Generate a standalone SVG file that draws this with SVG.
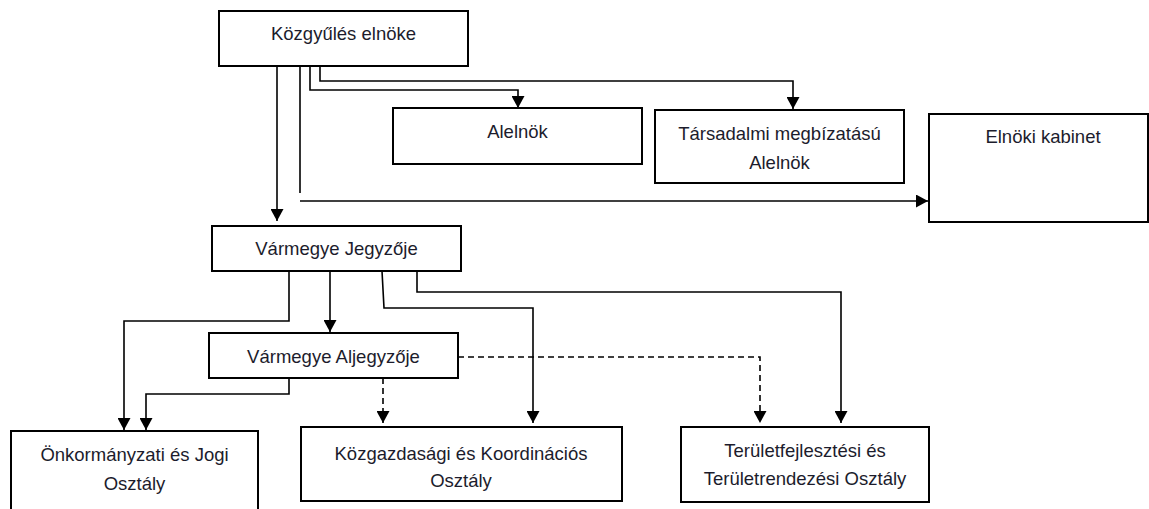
<svg xmlns="http://www.w3.org/2000/svg" width="1149" height="509" viewBox="0 0 1149 509">
<style>
.box{fill:#fff;stroke:#000;stroke-width:2}
.t{font-family:"Liberation Sans",Arial,sans-serif;font-size:18.5px;fill:#1c1c2c;text-anchor:middle}
.c{fill:none;stroke:#000;stroke-width:1.6}
.d{fill:none;stroke:#000;stroke-width:1.6;stroke-dasharray:6 4}
</style>
<defs>
<marker id="ah" markerUnits="userSpaceOnUse" markerWidth="13" markerHeight="13" refX="12" refY="6.5" orient="auto" viewBox="0 0 13 13">
<path d="M0,0 L12,6.5 L0,13 Z" fill="#000"/>
</marker>
</defs>
<rect width="1149" height="509" fill="#fff"/>
<g id="connectors">
<path class="c" d="M277,66 V221" marker-end="url(#ah)"/>
<path class="c" d="M300,66 V193"/>
<path class="c" d="M300,201 H928" marker-end="url(#ah)"/>
<path class="c" d="M310,66 V90 H518 V108" marker-end="url(#ah)"/>
<path class="c" d="M320,66 V81 H793 V109" marker-end="url(#ah)"/>
<path class="c" d="M289,271 V321 H124 V430" marker-end="url(#ah)"/>
<path class="c" d="M330,271 V332" marker-end="url(#ah)"/>
<path class="c" d="M382,271 L384,308 H533 V423" marker-end="url(#ah)"/>
<path class="c" d="M417,271 V292 H841 V423" marker-end="url(#ah)"/>
<path class="c" d="M289,378 V394 H146 V430" marker-end="url(#ah)"/>
<path class="d" d="M383,378 V423" marker-end="url(#ah)"/>
<path class="d" d="M458,357 H760 V423" marker-end="url(#ah)"/>
</g>
<g id="kozgyules-elnoke">
<rect class="box" x="219" y="11" width="249" height="55"/>
<text class="t" x="343.5" y="40">Közgyűlés elnöke</text>
</g>
<g id="alelnok">
<rect class="box" x="393" y="108" width="249" height="56"/>
<text class="t" x="517.5" y="138">Alelnök</text>
</g>
<g id="tarsadalmi-alelnok">
<rect class="box" x="655" y="110" width="249" height="73"/>
<text class="t" x="779.5" y="140">Társadalmi megbízatású</text>
<text class="t" x="779.5" y="169">Alelnök</text>
</g>
<g id="elnoki-kabinet">
<rect class="box" x="929" y="114" width="219" height="108"/>
<text class="t" x="1043" y="143">Elnöki kabinet</text>
</g>
<g id="varmegye-jegyzoje">
<rect class="box" x="212" y="226" width="249" height="45"/>
<text class="t" x="336.5" y="255">Vármegye Jegyzője</text>
</g>
<g id="varmegye-aljegyzoje">
<rect class="box" x="209" y="333" width="249" height="45"/>
<text class="t" x="333.5" y="363">Vármegye Aljegyzője</text>
</g>
<g id="onkormanyzati">
<rect class="box" x="11" y="431" width="247" height="90"/>
<text class="t" x="134.5" y="461">Önkormányzati és Jogi</text>
<text class="t" x="134.5" y="490">Osztály</text>
</g>
<g id="kozgazdasagi">
<rect class="box" x="301" y="427" width="321" height="74"/>
<text class="t" x="461" y="460">Közgazdasági és Koordinációs</text>
<text class="t" x="461" y="487">Osztály</text>
</g>
<g id="teruletfejlesztesi">
<rect class="box" x="681" y="427" width="248" height="75"/>
<text class="t" x="805" y="457">Területfejlesztési és</text>
<text class="t" x="805" y="485">Területrendezési Osztály</text>
</g>
</svg>
